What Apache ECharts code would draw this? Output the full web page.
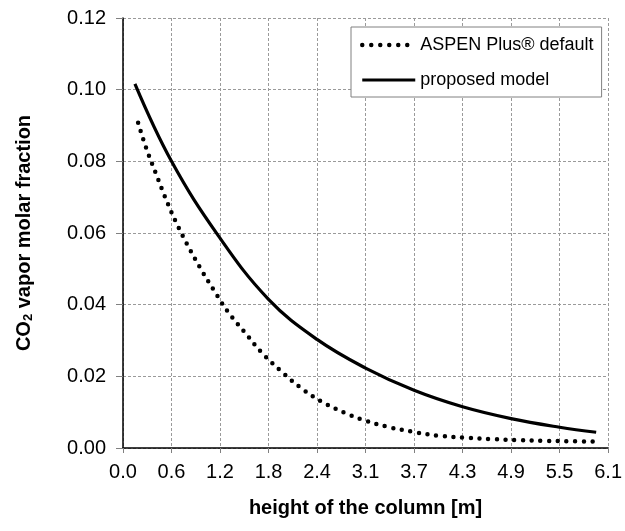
<!DOCTYPE html>
<html>
<head>
<meta charset="utf-8">
<script src="https://cdn.jsdelivr.net/npm/echarts@6/dist/echarts.min.js"></script>
<style>html,body{margin:0;padding:0;background:#fff}#c{width:625px;height:531px}</style>
</head>
<body>
<div id="c"></div>
<script>
// height of the column [m]
const aspenX = [0.19, 0.29, 0.41, 0.53, 0.66, 0.81, 0.97, 1.14, 1.32, 1.53, 1.74, 1.98, 2.23, 2.50, 2.80, 3.01, 3.33, 3.65, 3.98, 4.31, 4.63, 4.97, 5.29, 5.62, 5.95];
const aspenY = [0.0908, 0.0838, 0.0768, 0.0700, 0.0633, 0.0567, 0.0503, 0.0441, 0.0380, 0.0323, 0.0267, 0.0216, 0.0169, 0.0129, 0.0097, 0.0079, 0.0059, 0.0045, 0.0034, 0.0029, 0.0025, 0.0022, 0.0020, 0.0019, 0.0018];
const modelX = [0.15, 0.61, 1.20, 1.83, 2.44, 3.05, 3.66, 4.27, 4.88, 5.49, 5.95];
const modelY = [0.1016, 0.0800, 0.0592, 0.0415, 0.0303, 0.0223, 0.0161, 0.0115, 0.0082, 0.0058, 0.0044];
const xTickLabels = ['0.0', '0.6', '1.2', '1.8', '2.4', '3.1', '3.7', '4.3', '4.9', '5.5', '6.1'];
const yTickLabels = ['0.00', '0.02', '0.04', '0.06', '0.08', '0.10', '0.12'];
const seriesNames = ['ASPEN Plus® default', 'proposed model'];

const FONT = '"Liberation Sans", Arial, sans-serif';
const chart = echarts.init(document.getElementById('c'), null, {renderer: 'canvas'});
const pair = (xs, ys) => xs.map((x, i) => [x, ys[i]]);
const gridLine = {show: true, lineStyle: {color: '#9a9a9a', width: 1, type: [3, 2]}};
const dotStyle = {color: '#000', width: 4.5, type: [0, 8.7], cap: 'round'};
const legendDotStyle = {color: '#000', width: 4.5, type: [0, 9], cap: 'round'};
const solidStyle = {color: '#000', width: 3.2, type: 'solid'};

chart.setOption({
  animation: false,
  backgroundColor: '#fff',
  grid: {left: 123, right: 15, top: 18, bottom: 83, containLabel: false},
  legend: {
    orient: 'vertical', left: 351, top: 27,
    padding: [9, 8, 8, 9],
    backgroundColor: '#fff', borderColor: '#808080', borderWidth: 1, borderRadius: 0,
    itemWidth: 53, itemHeight: 20, itemGap: 17,
    itemStyle: {opacity: 0},
    textStyle: {fontFamily: FONT, fontSize: 18, color: '#000', padding: [0, 0, 0, 0]},
    data: [
      {name: seriesNames[0], lineStyle: legendDotStyle},
      {name: seriesNames[1], lineStyle: solidStyle}
    ]
  },
  xAxis: {
    type: 'value', min: 0, max: 6.1, interval: 0.61,
    name: 'height of the column [m]', nameLocation: 'middle', nameGap: 50,
    nameTextStyle: {fontFamily: FONT, fontSize: 20, fontWeight: 'bold', color: '#000'},
    axisLine: {show: true, onZero: false, lineStyle: {color: '#000', width: 1.5}},
    axisTick: {show: true, inside: false, length: 5, lineStyle: {color: '#808080'}},
    axisLabel: {fontFamily: FONT, fontSize: 20, color: '#000', margin: 14, showMinLabel: true, showMaxLabel: true,
      formatter: v => xTickLabels[Math.round(v / 0.61)]},
    splitLine: gridLine
  },
  yAxis: {
    type: 'value', min: 0, max: 0.12, interval: 0.02,
    name: 'CO{sub|2} vapor molar fraction', nameLocation: 'middle', nameGap: 88,
    nameTextStyle: {fontFamily: FONT, fontSize: 20, fontWeight: 'bold', color: '#000',
      rich: {sub: {fontFamily: FONT, fontSize: 13, fontWeight: 'bold', color: '#000', verticalAlign: 'bottom', padding: [8, 0, 0, 0]}}},
    axisLine: {show: true, onZero: false, lineStyle: {color: '#000', width: 1.5}},
    axisTick: {show: true, inside: false, length: 7, lineStyle: {color: '#808080'}},
    axisLabel: {fontFamily: FONT, fontSize: 20, color: '#000', margin: 17, showMinLabel: true, showMaxLabel: true,
      formatter: v => yTickLabels[Math.round(v / 0.02)]},
    splitLine: gridLine
  },
  series: [
    {
      name: seriesNames[0], type: 'line', data: pair(aspenX, aspenY),
      smooth: 0.4, symbol: 'none', showSymbol: false,
      itemStyle: {color: '#000'},
      lineStyle: dotStyle
    },
    {
      name: seriesNames[1], type: 'line', data: pair(modelX, modelY),
      smooth: 0.4, symbol: 'none', showSymbol: false,
      itemStyle: {color: '#000'},
      lineStyle: solidStyle
    }
  ]
});
</script>
</body>
</html>
